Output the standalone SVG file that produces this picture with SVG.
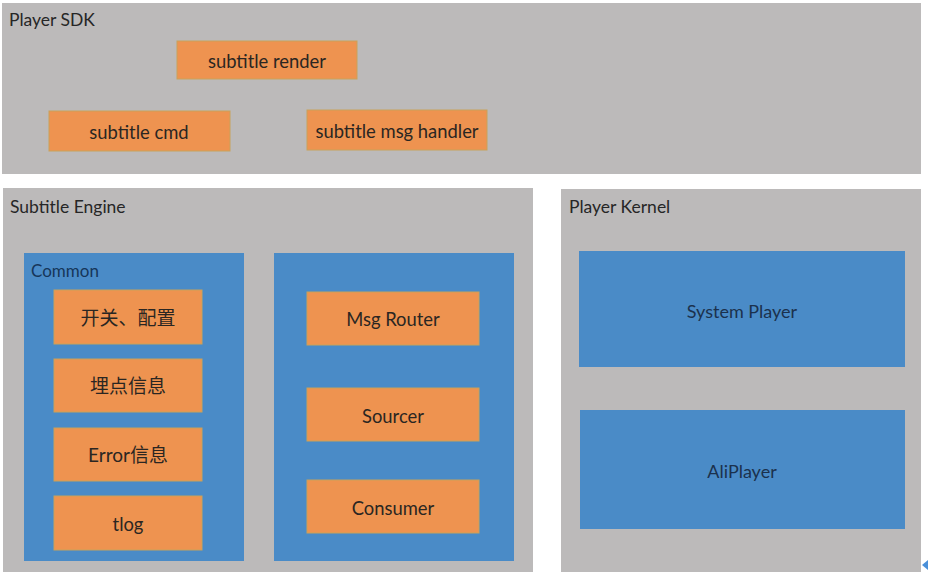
<svg xmlns="http://www.w3.org/2000/svg" width="928" height="578" viewBox="0 0 928 578">
<style>
.panel{fill:#bcbaba}
.blue{fill:#4a8bc7}
.org{fill:#ee9350;stroke:#c8a25a;stroke-width:1}
text{font-family:Lato,"Noto Sans CJK SC",sans-serif}
.t{font-size:17.5px;fill:#262626}
.o{font-size:18.4px;fill:#2a2622;text-anchor:middle}
.cn{font-size:19px}
.b{font-size:18px;fill:#1b314d;text-anchor:middle}
.c{font-size:17px;fill:#163659}
</style>
<rect width="928" height="578" fill="#ffffff"/>
<g id="player-sdk">
<rect class="panel" x="2" y="3" width="919" height="171"/>
<text class="t" x="9" y="26">Player SDK</text>
</g>
<g id="subtitle-render"><rect class="org" x="177" y="41" width="180" height="38"/><text class="o" x="267" y="68">subtitle render</text></g>
<g id="subtitle-cmd"><rect class="org" x="49" y="111" width="181" height="40"/><text class="o" x="139" y="139">subtitle cmd</text></g>
<g id="subtitle-msg-handler"><rect class="org" x="307" y="110" width="180" height="40"/><text class="o" x="397" y="138">subtitle msg handler</text></g>
<g id="subtitle-engine">
<rect class="panel" x="3" y="188" width="530" height="384"/>
<text class="t" x="10" y="213">Subtitle Engine</text>
</g>
<g id="common">
<rect class="blue" x="24" y="253" width="220" height="308"/>
<text class="c" x="31" y="277">Common</text>
</g>
<g id="switch-config"><rect class="org" x="54" y="290" width="148" height="54"/><text class="o cn" x="128" y="325">开关、配置</text></g>
<g id="tracking"><rect class="org" x="54" y="359" width="148" height="53"/><text class="o cn" x="128" y="393">埋点信息</text></g>
<g id="error-info"><rect class="org" x="54" y="428" width="148" height="53"/><text class="o cn" x="128" y="462">Error信息</text></g>
<g id="tlog"><rect class="org" x="54" y="496" width="148" height="54"/><text class="o" x="128" y="531">tlog</text></g>
<g id="engine-core"><rect class="blue" x="274" y="253" width="240" height="308"/></g>
<g id="msg-router"><rect class="org" x="307" y="292" width="172" height="53"/><text class="o" x="393" y="326">Msg Router</text></g>
<g id="sourcer"><rect class="org" x="307" y="388" width="172" height="53"/><text class="o" x="393" y="423">Sourcer</text></g>
<g id="consumer"><rect class="org" x="307" y="480" width="172" height="53"/><text class="o" x="393" y="515">Consumer</text></g>
<g id="player-kernel">
<rect class="panel" x="561" y="189" width="360" height="383"/>
<text class="t" x="569" y="213">Player Kernel</text>
</g>
<g id="system-player"><rect class="blue" x="579" y="251" width="326" height="116"/><text class="b" x="742" y="318">System Player</text></g>
<g id="aliplayer"><rect class="blue" x="580" y="410" width="325" height="119"/><text class="b" x="742" y="478">AliPlayer</text></g>
<g id="connectors"></g>
<polygon points="922,565 928,560 928,570" fill="#4a90d9"/>
</svg>
